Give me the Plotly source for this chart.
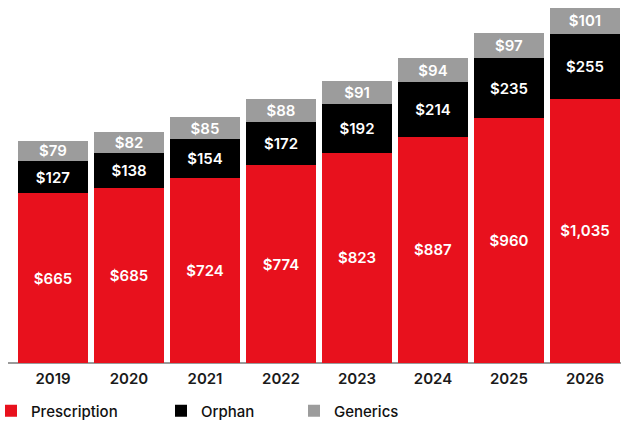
import plotly.graph_objects as go

years = ["2019", "2020", "2021", "2022", "2023", "2024", "2025", "2026"]
prescription = [665, 685, 724, 774, 823, 887, 960, 1035]
orphan = [127, 138, 154, 172, 192, 214, 235, 255]
generics = [79, 82, 85, 88, 91, 94, 97, 101]

series = [
    ("Prescription", prescription, "#E8111D", "legend"),
    ("Orphan", orphan, "#000000", "legend2"),
    ("Generics", generics, "#9C9C9C", "legend3"),
]

FONT = "Inter"
fig = go.Figure()
for name, vals, color, lg in series:
    fig.add_trace(go.Bar(
        x=years, y=vals, name=name,
        marker=dict(color=color, line=dict(width=0)),
        text=[f"${v:,}" for v in vals],
        textposition="inside", insidetextanchor="middle", textangle=0,
        textfont=dict(family=FONT, size=15, color="white", weight=600),
        legend=lg, hoverinfo="skip",
    ))

total_max = max(p + o + g for p, o, g in zip(prescription, orphan, generics))

W, H = 623, 425
ml, mr, mt, mb = 15, 0, 8, 62
pw, ph = W - ml - mr, H - mt - mb

def lx(px):
    return (px - ml) / pw

def ly(py):
    return (H - mb - py) / ph

legend_common = dict(orientation="h", yanchor="middle", xanchor="left",
                     font=dict(family=FONT, size=15, color="#111", weight=500),
                     bgcolor="rgba(0,0,0,0)", borderwidth=0)

fig.update_layout(
    width=W, height=H,
    margin=dict(l=ml, r=mr, t=mt, b=mb, autoexpand=False),
    barmode="stack", bargap=0.08,
    plot_bgcolor="white", paper_bgcolor="white",
    uniformtext=dict(minsize=15, mode="show"),
    xaxis=dict(showgrid=False, showline=False, ticks="", zeroline=False,
               tickfont=dict(family=FONT, size=15, color="#1a1a1a", weight=600),
               ticklabelstandoff=5, automargin=False,
               range=[-0.5, 7.5], fixedrange=True),
    yaxis=dict(visible=False, range=[0, total_max], fixedrange=True),
    legend=dict(x=lx(-9), y=ly(411), **legend_common),
    legend2=dict(x=lx(161), y=ly(411), **legend_common),
    legend3=dict(x=lx(294), y=ly(411), **legend_common),
    showlegend=True,
)
fig.add_shape(type="line", xref="paper", yref="paper",
              x0=lx(8), x1=lx(621), y0=0, y1=0,
              line=dict(color="#9a9a9a", width=2), layer="below")

fig.write_html("out.html")
